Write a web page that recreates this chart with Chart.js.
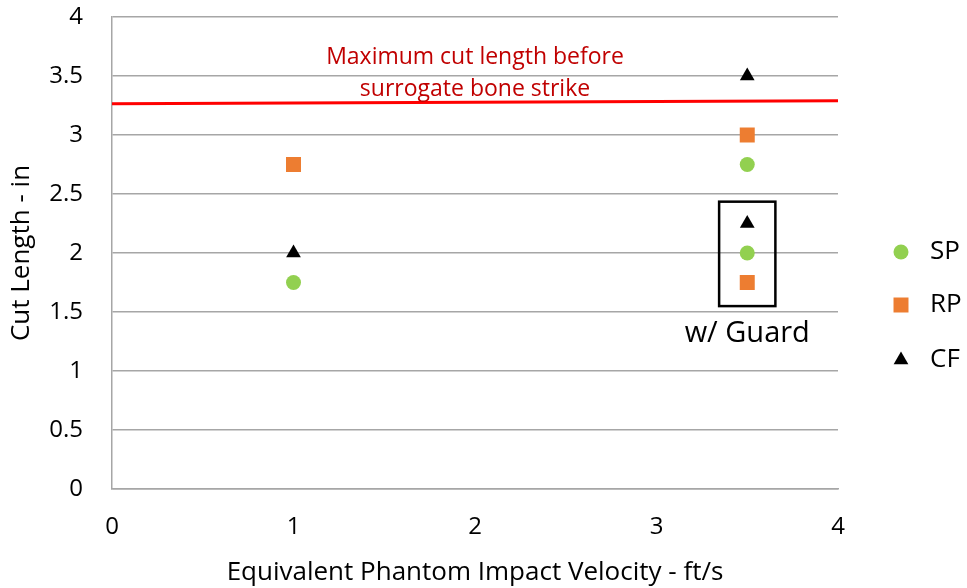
<!DOCTYPE html>
<html>
<head>
<meta charset="utf-8">
<script src="https://cdn.jsdelivr.net/npm/chart.js@4/dist/chart.umd.min.js"></script>
<style>
  html, body { margin: 0; padding: 0; background: #fff; }
  #wrap { width: 967px; height: 588px; position: relative; }
</style>
</head>
<body>
<div id="wrap"><canvas id="cutChart"></canvas></div>
<script>
// values
const seriesNames = ["SP", "RP", "CF"];
const spX = [1, 3.5, 3.5];
const spY = [1.75, 2.75, 2.0];
const rpX = [1, 3.5, 3.5];
const rpY = [2.75, 3.0, 1.75];
const cfX = [1, 3.5, 3.5];
const cfY = [2.0, 3.5, 2.25];

// red "max cut length" line
const maxCutX = [0, 4];
const maxCutY = [3.265, 3.29];
const maxCutText = ["Maximum cut length before", "surrogate bone strike"];

// box around the guarded runs
const guardBoxX = [3.345, 3.655];
const guardBoxY = [1.55, 2.435];
const guardText = "w/ Guard";

const FONT = "'Open Sans', sans-serif";

function toPoints(xs, ys) {
  return xs.map((x, i) => ({ x: x, y: ys[i] }));
}

// annotations + legend drawn on top of the chart
const extrasPlugin = {
  id: "extras",
  afterDatasetsDraw(chart) {
    const ctx = chart.ctx;
    const xs = chart.scales.x, ys = chart.scales.y;

    // text over the red line
    ctx.save();
    ctx.fillStyle = "#c00000";
    ctx.font = "23px " + FONT;
    ctx.textAlign = "center";
    ctx.textBaseline = "middle";
    ctx.fillText(maxCutText[0], xs.getPixelForValue(2), ys.getPixelForValue(3.66));
    ctx.fillText(maxCutText[1], xs.getPixelForValue(2), ys.getPixelForValue(3.39));
    ctx.restore();

    // guard box
    const l = xs.getPixelForValue(guardBoxX[0]), r = xs.getPixelForValue(guardBoxX[1]);
    const t = ys.getPixelForValue(guardBoxY[1]), b = ys.getPixelForValue(guardBoxY[0]);
    ctx.save();
    ctx.strokeStyle = "#000";
    ctx.lineWidth = 2.5;
    ctx.strokeRect(l, t, r - l, b - t);
    ctx.fillStyle = "#000";
    ctx.font = "29px " + FONT;
    ctx.textAlign = "center";
    ctx.textBaseline = "middle";
    ctx.fillText(guardText, (l + r) / 2, ys.getPixelForValue(1.32));
    ctx.restore();

    // legend on the right
    const legX = 901, legY = [252, 305, 360];
    chart.data.datasets.slice(0, 3).forEach((ds, i) => {
      ctx.save();
      ctx.fillStyle = ds.backgroundColor;
      ctx.strokeStyle = ds.borderColor;
      Chart.helpers.drawPoint(ctx, {
        pointStyle: ds.pointStyle,
        radius: ds.pointRadius,
        borderWidth: 0,
        rotation: 0
      }, legX, legY[i]);
      ctx.fillStyle = "#000";
      ctx.font = "26px " + FONT;
      ctx.textAlign = "left";
      ctx.textBaseline = "middle";
      ctx.fillText(ds.label, 930, legY[i]);
      ctx.restore();
    });
  }
};

const canvas = document.getElementById("cutChart");
new Chart(canvas.getContext("2d"), {
  type: "scatter",
  data: {
    datasets: [
      {
        label: seriesNames[0],
        data: toPoints(spX, spY),
        pointStyle: "circle",
        pointRadius: 7.5,
        backgroundColor: "#92d050",
        borderColor: "#92d050",
        borderWidth: 0
      },
      {
        label: seriesNames[1],
        data: toPoints(rpX, rpY),
        pointStyle: "rect",
        pointRadius: 10.6,
        backgroundColor: "#ed7d31",
        borderColor: "#ed7d31",
        borderWidth: 0
      },
      {
        label: seriesNames[2],
        data: toPoints(cfX, cfY),
        pointStyle: "triangle",
        pointRadius: 8.5,
        backgroundColor: "#000",
        borderColor: "#000",
        borderWidth: 0
      },
      {
        label: "max",
        type: "line",
        data: toPoints(maxCutX, maxCutY),
        borderColor: "#ff0000",
        borderWidth: 3,
        pointRadius: 0,
        fill: false
      }
    ]
  },
  options: {
    responsive: true,
    maintainAspectRatio: false,
    animation: false,
    layout: { padding: { top: 17, right: 129, left: 0, bottom: 0 } },
    plugins: {
      legend: { display: false },
      tooltip: { enabled: false }
    },
    scales: {
      x: {
        type: "linear",
        min: 0,
        max: 4,
        ticks: { stepSize: 1, color: "#000", font: { family: FONT, size: 24 }, padding: 24 },
        grid: { display: false, drawTicks: false },
        border: { display: true, color: "#a6a6a6", width: 1.5 },
        title: {
          display: true,
          text: "Equivalent Phantom Impact Velocity - ft/s",
          color: "#000",
          font: { family: FONT, size: 26 },
          padding: { top: 0, bottom: 0 }
        },
        afterFit(scale) {
          scale.height = 99;
          scale.paddingLeft = 0;
          scale.paddingRight = 0;
        }
      },
      y: {
        min: 0,
        max: 4,
        ticks: {
          stepSize: 0.5,
          color: "#000",
          font: { family: FONT, size: 24 },
          padding: 29,
          callback: (v) => String(v)
        },
        grid: { color: "#a6a6a6", lineWidth: 1.5, drawTicks: false },
        border: { display: true, color: "#a6a6a6", width: 1.5 },
        title: {
          display: true,
          text: "Cut Length - in",
          color: "#000",
          font: { family: FONT, size: 26 },
          padding: { top: 6, bottom: 0 }
        },
        afterFit(scale) {
          scale.width = 112;
          scale.paddingTop = 0;
          scale.paddingBottom = 0;
        }
      }
    }
  },
  plugins: [extrasPlugin]
});
</script>
</body>
</html>
